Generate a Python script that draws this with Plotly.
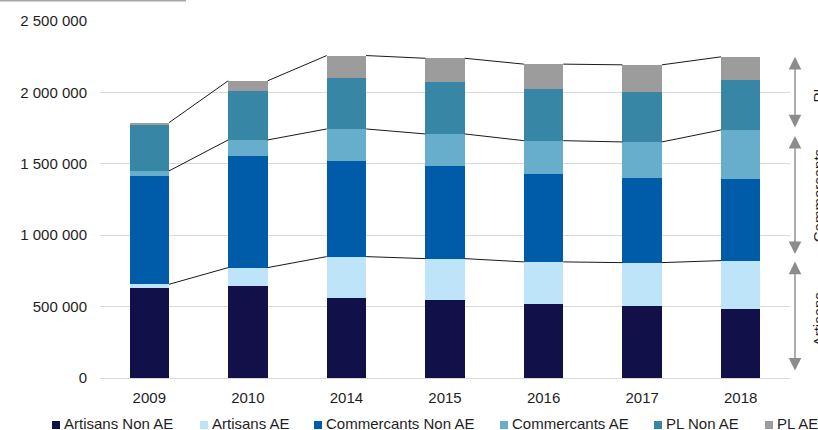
import numpy as np
import plotly.graph_objects as go

# ---------------- data ----------------
YEARS = ["2009", "2010", "2014", "2015", "2016", "2017", "2018"]
SERIES = ["Artisans Non AE", "Artisans AE", "Commercants Non AE",
          "Commercants AE", "PL Non AE", "PL AE"]
ART_NON = [628000, 645000, 563000, 543000, 519000, 501000, 482000]
ART_AE = [28000, 128000, 287000, 293000, 294000, 307000, 340000]
COM_NON = [761000, 784000, 672000, 649000, 619000, 596000, 575000]
COM_AE = [33000, 110000, 222000, 224000, 230000, 249000, 340000]
PL_NON = [324000, 344000, 358000, 361000, 363000, 351000, 351000]
PL_AE = [14000, 70000, 156000, 169000, 173000, 189000, 161000]
GROUPS = ["Artisans", "Commercants", "PL"]
Y_TICKS = [0, 500000, 1000000, 1500000, 2000000, 2500000]

# ---------------- style ----------------
COLORS = ["#121048", "#BDE4F8", "#005CA9", "#66AECB", "#3786A6", "#9C9C9C"]
FONT = "Liberation Sans, Arial, sans-serif"
TXT = "#1e1e1e"
W, H = 818, 430
ML, MR, MT, MB = 100, 28, 21, 52
PW, PH = W - ML - MR, H - MT - MB


def px_x(p):
    return (p - ML) / PW


def px_y(p):
    return (H - MB - p) / PH


values = [ART_NON, ART_AE, COM_NON, COM_AE, PL_NON, PL_AE]
x = np.arange(len(YEARS))
BAR_W = 0.4

fig = go.Figure()
for name, vals, col in zip(SERIES, values, COLORS):
    fig.add_trace(go.Bar(x=x, y=vals, name=name, width=BAR_W,
                         marker=dict(color=col, line=dict(width=0)),
                         showlegend=False))

arr = np.array(values, dtype=float)
cum_art = arr[0] + arr[1]
cum_com = cum_art + arr[2] + arr[3]
cum_tot = cum_com + arr[4] + arr[5]

for level in [cum_art, cum_com, cum_tot]:
    xs, ys = [], []
    for i in range(len(YEARS) - 1):
        xs += [x[i] + BAR_W / 2, x[i + 1] - BAR_W / 2, None]
        ys += [level[i], level[i + 1], None]
    fig.add_trace(go.Scatter(x=xs, y=ys, mode="lines",
                             line=dict(color="#1a1a1a", width=1),
                             showlegend=False, hoverinfo="skip"))

annotations = []
shapes = []

# brackets (double arrows) on the right, using the last year's group bounds
bounds = [(0.0, cum_art[-1]), (cum_art[-1], cum_com[-1]), (cum_com[-1], cum_tot[-1])]
stand = [(6, 1), (5, 6), (1, 0)]
for label, (lo, hi), (s_lo, s_hi) in zip(GROUPS, bounds, stand):
    annotations.append(dict(
        x=px_x(795), xref="paper", y=hi, yref="y",
        ax=0, axref="pixel", ay=lo, ayref="y",
        showarrow=True, arrowside="end+start", arrowhead=2, startarrowhead=2,
        arrowsize=1.8, startarrowsize=1.8, arrowwidth=1.4,
        arrowcolor="#8C8C8C", standoff=s_hi, startstandoff=s_lo, text=""))
    annotations.append(dict(
        x=px_x(818), xref="paper", y=(lo + hi) / 2, yref="y",
        text=label, textangle=-90, showarrow=False,
        xanchor="center", yanchor="middle",
        font=dict(family=FONT, size=15, color=TXT)))

# manual legend
LEG_X = [52, 200, 314, 500, 654, 765]
LEG_Y = 425
for name, col, lx in zip(SERIES, COLORS, LEG_X):
    shapes.append(dict(type="rect", xref="paper", yref="paper",
                       x0=px_x(lx), x1=px_x(lx + 8),
                       y0=px_y(LEG_Y + 4), y1=px_y(LEG_Y - 4),
                       fillcolor=col, line=dict(width=0)))
    annotations.append(dict(
        x=px_x(lx + 10), xref="paper", y=px_y(LEG_Y - 1.5), yref="paper",
        text=name, showarrow=False, xanchor="left", yanchor="middle",
        font=dict(family=FONT, size=15, color=TXT)))

# cut-off frame line at top left
shapes.append(dict(type="line", xref="paper", yref="paper",
                   x0=px_x(0), x1=px_x(186), y0=px_y(0.7), y1=px_y(0.7),
                   line=dict(color="#A6A6A6", width=1.5)))

fig.update_layout(
    width=W, height=H,
    margin=dict(l=ML, r=MR, t=MT, b=MB),
    paper_bgcolor="white", plot_bgcolor="white",
    barmode="stack", bargap=0,
    font=dict(family=FONT, size=15, color=TXT),
    showlegend=False,
    annotations=annotations, shapes=shapes,
    xaxis=dict(range=[-0.5, len(YEARS) - 0.5], tickvals=x, ticktext=YEARS,
               showgrid=False, zeroline=False, showline=False,
               ticks="", ticklabelstandoff=9,
               tickfont=dict(family=FONT, size=15, color=TXT)),
    yaxis=dict(range=[0, 2500000], tickvals=Y_TICKS,
               ticktext=[f"{v:,}".replace(",", " ") for v in Y_TICKS],
               showgrid=True, gridcolor="#D9D9D9", gridwidth=1,
               zeroline=True, zerolinecolor="#D9D9D9", zerolinewidth=1,
               showline=False, ticks="", ticklabelstandoff=12,
               tickfont=dict(family=FONT, size=15, color=TXT)),
)

fig.write_html("out.html")
